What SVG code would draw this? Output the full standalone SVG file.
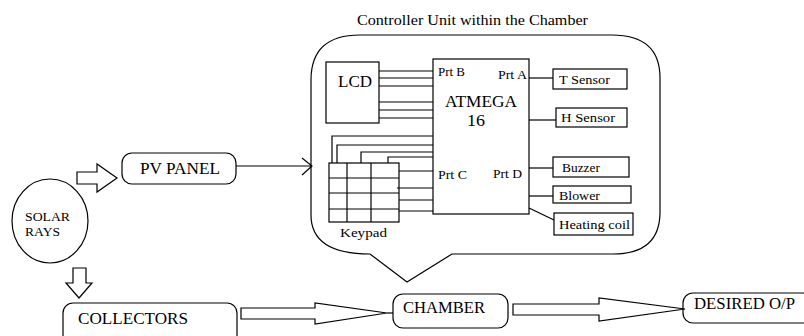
<svg xmlns="http://www.w3.org/2000/svg" width="804" height="336" viewBox="0 0 804 336">
<style>
.s{fill:none;stroke:#000;stroke-width:1.2}
.w{fill:#fff;stroke:#000;stroke-width:1.2}
.t{font-family:"Liberation Serif","Times New Roman",serif;fill:#000}
</style>
<rect width="804" height="336" fill="#fff"/>
<g id="connectors">
  <line class="s" x1="236" y1="166" x2="311" y2="166"/>
  <polyline class="s" points="302,158 312,166 302,175"/>
  <path class="w" d="M77,172 H97 V164 L117,178 L97,192 V184 H77 Z"/>
  <path class="w" d="M73,268 H86 V283 H92 L79,298 L66,283 H73 Z"/>
  <path class="w" d="M241,308 H315 V303 L387,313 L315,324 V319 H241 Z"/>
  <line class="s" x1="387" y1="313" x2="393" y2="313"/>
  <path class="w" d="M513,304 H599 V298 L685,309 L599,321 V315 H513 Z"/>
  <g class="s">
    <line x1="379" y1="71" x2="433" y2="71"/>
    <line x1="379" y1="78" x2="433" y2="78"/>
    <line x1="379" y1="86" x2="433" y2="86"/>
    <line x1="379" y1="102" x2="433" y2="102"/>
    <line x1="379" y1="110" x2="433" y2="110"/>
    <line x1="379" y1="118" x2="433" y2="118"/>
    <polyline points="332,163 332,136 433,136"/>
    <polyline points="337,163 337,145 433,145"/>
    <polyline points="361,163 361,152 433,152"/>
    <polyline points="388,163 388,157 433,157"/>
    <line x1="399" y1="171" x2="433" y2="171"/>
    <line x1="397" y1="188" x2="433" y2="188"/>
    <line x1="399" y1="200" x2="433" y2="200"/>
    <line x1="399" y1="211" x2="433" y2="211"/>
    <line x1="529" y1="78" x2="553" y2="78"/>
    <line x1="529" y1="120" x2="556" y2="120"/>
    <line x1="529" y1="168" x2="553" y2="168"/>
    <line x1="529" y1="196" x2="553" y2="196"/>
    <line x1="529" y1="208" x2="554" y2="220"/>
  </g>
</g>
<g id="controller-unit">
  <path class="s" d="M360,35 H612 Q660,35 660,78 V212 Q660,254 613,254 H452 L407,282 L370,254 Q311,254 311,215 V80 Q311,35 360,35 Z"/>
  <text class="t" x="357" y="25" font-size="15.5" textLength="231" lengthAdjust="spacingAndGlyphs">Controller Unit within the Chamber</text>
</g>
<g id="lcd">
  <rect class="s" x="326" y="62" width="53" height="61"/>
  <text class="t" x="338" y="87" font-size="17" textLength="34" lengthAdjust="spacingAndGlyphs">LCD</text>
</g>
<g id="atmega">
  <rect class="s" x="433" y="59" width="96" height="155"/>
  <text class="t" x="438" y="76" font-size="12.5" textLength="27" lengthAdjust="spacingAndGlyphs">Prt B</text>
  <text class="t" x="498" y="79" font-size="12.5" textLength="29" lengthAdjust="spacingAndGlyphs">Prt A</text>
  <text class="t" x="445" y="107" font-size="17" textLength="72" lengthAdjust="spacingAndGlyphs">ATMEGA</text>
  <text class="t" x="467" y="126" font-size="17" textLength="18" lengthAdjust="spacingAndGlyphs">16</text>
  <text class="t" x="438" y="179" font-size="12.5" textLength="29" lengthAdjust="spacingAndGlyphs">Prt C</text>
  <text class="t" x="493" y="178" font-size="12.5" textLength="29" lengthAdjust="spacingAndGlyphs">Prt D</text>
</g>
<g id="keypad">
  <rect class="s" x="329" y="163" width="70" height="59"/>
  <g class="s">
    <line x1="347" y1="163" x2="347" y2="222"/>
    <line x1="371" y1="163" x2="371" y2="222"/>
    <line x1="329" y1="178" x2="399" y2="178"/>
    <line x1="329" y1="193" x2="399" y2="193"/>
    <line x1="329" y1="209" x2="399" y2="209"/>
  </g>
  <text class="t" x="340" y="237" font-size="13" textLength="47" lengthAdjust="spacingAndGlyphs">Keypad</text>
</g>
<g id="t-sensor">
  <rect class="s" x="553" y="69" width="74" height="20"/>
  <text class="t" x="559" y="84" font-size="13.5" textLength="51" lengthAdjust="spacingAndGlyphs">T Sensor</text>
</g>
<g id="h-sensor">
  <rect class="s" x="556" y="108" width="71" height="19"/>
  <text class="t" x="561" y="122" font-size="13.5" textLength="54" lengthAdjust="spacingAndGlyphs">H Sensor</text>
</g>
<g id="buzzer">
  <rect class="s" x="553" y="157" width="76" height="20"/>
  <text class="t" x="562" y="172" font-size="13.5" textLength="38" lengthAdjust="spacingAndGlyphs">Buzzer</text>
</g>
<g id="blower">
  <rect class="s" x="553" y="186" width="78" height="17"/>
  <text class="t" x="559" y="200" font-size="13.5" textLength="41" lengthAdjust="spacingAndGlyphs">Blower</text>
</g>
<g id="heating-coil">
  <rect class="s" x="554" y="213" width="79" height="22"/>
  <text class="t" x="559" y="229" font-size="13.5" textLength="71" lengthAdjust="spacingAndGlyphs">Heating coil</text>
</g>
<g id="solar-rays">
  <ellipse class="s" cx="50" cy="221" rx="38" ry="42"/>
  <text class="t" x="25" y="221" font-size="12.5" textLength="45" lengthAdjust="spacingAndGlyphs">SOLAR</text>
  <text class="t" x="25" y="236" font-size="12.5" textLength="35" lengthAdjust="spacingAndGlyphs">RAYS</text>
</g>
<g id="pv-panel">
  <rect class="s" x="122" y="153" width="114" height="31" rx="10"/>
  <text class="t" x="140" y="174" font-size="16.5" textLength="80" lengthAdjust="spacingAndGlyphs">PV PANEL</text>
</g>
<g id="collectors">
  <rect class="s" x="63" y="303" width="174" height="45" rx="10"/>
  <text class="t" x="78" y="324" font-size="16.5" textLength="110" lengthAdjust="spacingAndGlyphs">COLLECTORS</text>
</g>
<g id="chamber">
  <rect class="s" x="393" y="294" width="115" height="34" rx="10"/>
  <text class="t" x="403" y="313" font-size="16" textLength="82" lengthAdjust="spacingAndGlyphs">CHAMBER</text>
</g>
<g id="desired-op">
  <rect class="s" x="683" y="293" width="130" height="30" rx="10"/>
  <text class="t" x="694" y="309" font-size="16" textLength="101" lengthAdjust="spacingAndGlyphs">DESIRED O/P</text>
</g>
</svg>
